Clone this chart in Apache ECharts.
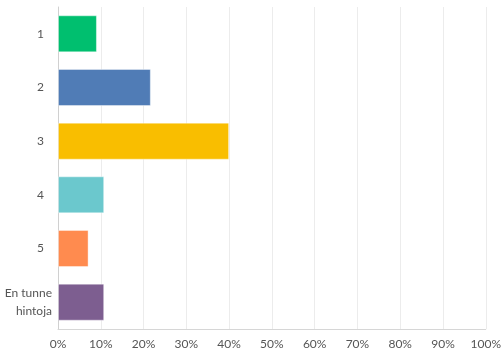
<!DOCTYPE html>
<html><head><meta charset="utf-8">
<script src="https://cdn.jsdelivr.net/npm/echarts@6/dist/echarts.min.js"></script>
<style>html,body{margin:0;padding:0;background:#fff}#c{width:504px;height:352px}</style>
</head><body><div id="c"></div>
<script>
const categories = ['1', '2', '3', '4', '5', 'En tunne\nhintoja'];
const values = [9.1, 21.7, 40.0, 10.8, 7.15, 10.8];
const colors = ['#00BF6F', '#507CB6', '#F9BE00', '#6BC8CD', '#FF8B4F', '#7D5E90'];

const chart = echarts.init(document.getElementById('c'), null, {renderer: 'canvas'});
chart.setOption({
  animation: false,
  grid: {left: 58, right: 12, top: 7, bottom: 23, containLabel: false},
  xAxis: {
    type: 'value', min: 0, max: 100, interval: 10,
    axisLine: {show: true, lineStyle: {color: '#d6d6d6'}}, axisTick: {show: false},
    splitLine: {lineStyle: {color: '#ececec', width: 1}},
    axisLabel: {formatter: v => v + '%', color: '#555', fontFamily: 'Lato', fontSize: 12, margin: 9}
  },
  yAxis: {
    type: 'category', data: categories, inverse: true,
    axisLine: {lineStyle: {color: '#d0d0d0'}}, axisTick: {show: false},
    axisLabel: {
      color: '#555', fontFamily: 'Lato', fontSize: 12, margin: 6, lineHeight: 18, align: 'right',
      formatter: v => v.length > 2 ? v : '{s|' + v + '}',
      rich: {s: {color: '#555', fontFamily: 'Lato', fontSize: 12, padding: [0, 8, 0, 0]}}
    }
  },
  series: [{
    type: 'bar',
    data: values.map((v, i) => ({value: v, itemStyle: {color: colors[i]}})),
    barCategoryGap: '31%',
    itemStyle: {borderColor: 'rgba(255,255,255,0.4)', borderWidth: 1}
  }]
});
</script></body></html>
